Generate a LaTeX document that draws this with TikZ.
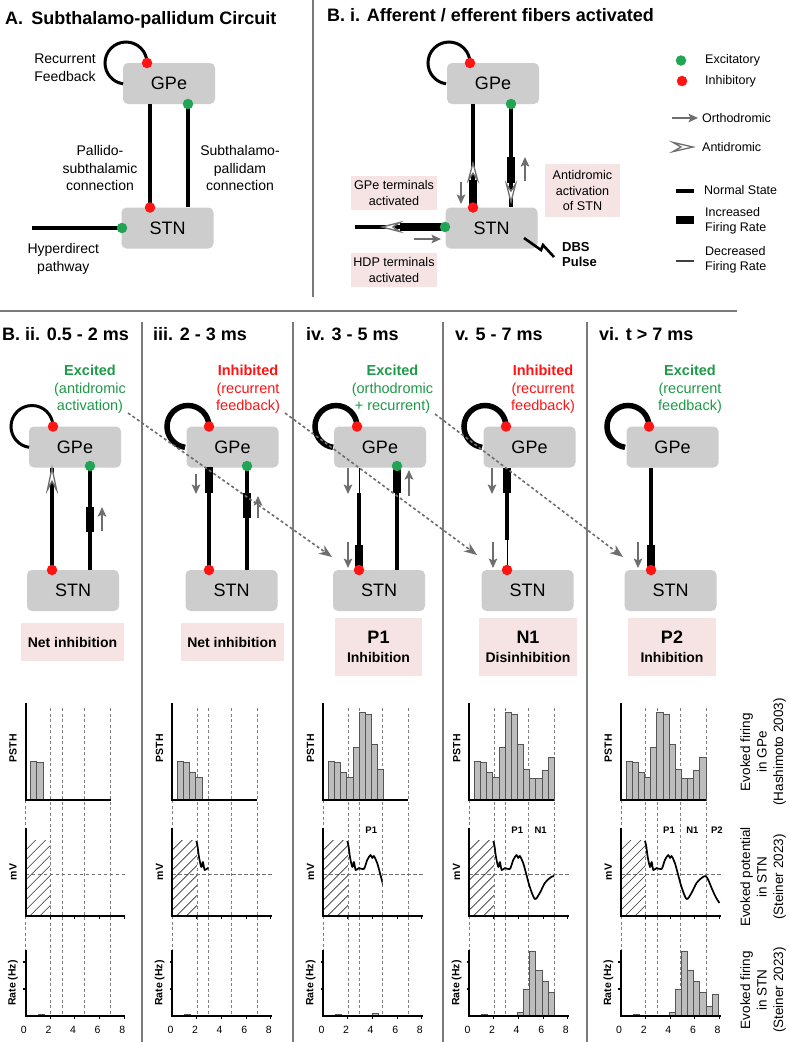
\documentclass[tikz,border=0pt]{standalone}
\usepackage{fontspec}
\setmainfont{Liberation Sans}
\usetikzlibrary{arrows.meta}
\definecolor{boxgray}{HTML}{CDCDCD}
\definecolor{pinkbg}{HTML}{F6E4E4}
\definecolor{dotred}{HTML}{FF1414}
\definecolor{dotgreen}{HTML}{22A455}
\definecolor{txtgreen}{HTML}{1E9A48}
\definecolor{arrgray}{HTML}{6E6E6E}
\definecolor{bargray}{HTML}{BDBDBD}
\definecolor{bardraw}{HTML}{555555}
\definecolor{divgray}{HTML}{7A7A7A}
\newcommand\myfs[2]{\fontsize{#1}{#2}\selectfont}
\newcommand\antihead[4]{\begin{scope}[shift={(#1,#2)},rotate=#3]\filldraw[fill=white,draw=arrgray,line width=1.3pt,line join=miter] (0,0) -- (4.6,#4) -- (0,{0.6*#4}) -- (-4.6,#4) -- cycle;\end{scope}}
\tikzset{
  box/.style={rounded corners=5pt, fill=boxgray, minimum width=92pt, minimum height=41pt, inner sep=0pt, font=\myfs{18}{20}},
  pinkbox/.style={fill=pinkbg, inner sep=0pt, align=center},
  idot/.style={circle, fill=dotred, inner sep=0pt, minimum size=10.5pt},
  edot/.style={circle, fill=dotgreen, inner sep=0pt, minimum size=10.5pt},
  nline/.style={line width=3.1pt},
  tline/.style={line width=7.2pt},
  fline/.style={line width=1pt},
  loopn/.style={line width=3pt},
  loopt/.style={line width=5.5pt},
  garrow/.style={draw=arrgray, line width=2.5pt, -{Stealth[length=9.5pt,width=8.5pt,inset=2pt]}},
  darrow/.style={draw=arrgray, line width=1.6pt, dash pattern=on 3pt off 2.5pt, -{Stealth[length=13pt,width=10pt,inset=4pt]}},
  divider/.style={draw=divgray, line width=1.2pt},
  ttl/.style={font=\bfseries\myfs{18}{20}, anchor=base west, inner sep=0pt},
  lbl/.style={font=\myfs{14}{17.5}, align=center, inner sep=0pt},
  hdg/.style={font=\myfs{14.5}{17.5}, align=center, inner sep=0pt},
  leg/.style={font=\myfs{12.5}{15.5}, anchor=west, align=left, inner sep=0pt},
  pinktxt/.style={font=\myfs{12.6}{15.5}},
  axln/.style={line width=1.8pt},
  tickln/.style={line width=1.1pt},
  vdsh/.style={draw=black!50, line width=0.7pt, dash pattern=on 3pt off 2.5pt},
  hdsh/.style={draw=black!55, line width=1pt, dash pattern=on 3.5pt off 2.5pt},
  barst/.style={fill=bargray, draw=bardraw, line width=0.6pt},
  trc/.style={line width=1.7pt, line join=round},
  htch/.style={line width=0.55pt, draw=black!80},
  ylbl/.style={font=\bfseries\myfs{10.5}{12}, rotate=90, inner sep=0pt},
  tklbl/.style={font=\myfs{10.5}{12}, inner sep=0pt},
  plbl/.style={font=\bfseries\myfs{9.5}{11}, inner sep=0pt},
}
\newcommand\chartcol[4]{%
\begin{scope}[shift={(#1,0)},x=12.3pt]
 \foreach \t in {2,2.95,4.8,6.9} \draw[vdsh] (\t,708) -- (\t,1016);
 \draw[vdsh] (0,800) -- (0,828);
 \draw[vdsh] (0,916) -- (0,950);
 \draw[hdsh] (0,874) -- (8.1,874);
 \foreach \h [count=\k from 0] in {38.7,38,27.7,22.7,52.3,87.3,85.3,56,30.7,21.7,21.7,30,42.7} {\ifnum\k<#2\relax \filldraw[barst] ({0.4+0.5*\k},800) rectangle ({0.9+0.5*\k},{800-\h});\fi}
 \begin{scope}
   \clip (0,840) rectangle (2,916);
   \foreach \k in {0,...,12} \draw[htch] ({-7.8+0.813*\k},916) -- ++(7.317,-90);
 \end{scope}
 \begin{scope}
   \clip (1.5,820) rectangle (#3,925);
   \draw[trc] plot[smooth,tension=0.5] coordinates {(1.95,841) (2.05,846) (2.17,857) (2.36,867) (2.49,862) (2.63,870) (2.9,868) (3.3,869) (3.57,860) (3.84,855) (3.98,858) (4.11,856) (4.38,863) (4.65,875) (4.92,887) (5.33,899) (5.73,893) (6.14,883) (6.55,878) (6.87,876) (7.1,880) (7.4,889) (7.7,897) (8.0,903)};
 \end{scope}
 \filldraw[barst] (1.0,1016) rectangle (1.5,1014.6);
 #4
 \draw[axln] (0,703) -- (0,800) -- (6.9,800);
 \draw[axln] (0,828) -- (0,916) -- (8.1,916);
 \draw[axln] (0,950) -- (0,1016) -- (8.1,1016);
 \foreach \t in {2,4,6,8} {\draw[tickln] (\t,916) -- (\t,919); \draw[tickln] (\t,1016) -- (\t,1019);}
 \draw[tickln] (0,962) -- (-0.22,962);
 \draw[tickln] (0,989) -- (-0.22,989);
 \foreach \t in {0,2,4,6,8} \node[tklbl] at ({\t-0.15},1030) {\t};
 \node[ylbl] at (-1.03,748) {PSTH};
 \node[ylbl] at (-1.03,872) {mV};
 \node[ylbl] at (-1.03,983) {Rate (Hz)};
\end{scope}}
\begin{document}
\begin{tikzpicture}[x=1pt,y=-1pt]
\useasboundingbox (0,0) rectangle (789,1042);
\fill[white] (0,0) rectangle (789,1042);
% dividers
\draw[divider] (0,311) -- (737,311);
\draw[divider] (313,0) -- (313,297);
\foreach \x in {142,293,443,587} \draw[divider] (\x,322) -- (\x,1042);
% titles
\node[ttl] at (5,24) {A.\hspace{0.45em}Subthalamo-pallidum Circuit};
\node[ttl] at (327,21) {B. i. Afferent / efferent fibers activated};
\node[ttl] at (2,340) {B. ii. 0.5 - 2 ms};
\node[ttl] at (153,340) {iii. 2 - 3 ms};
\node[ttl] at (306,340) {iv. 3 - 5 ms};
\node[ttl] at (455,340) {v. 5 - 7 ms};
\node[ttl] at (599,340) {vi. t > 7 ms};

% ===== Panel A =====
\node[box] (gA) at (169,83.5) {GPe};
\node[box] (sA) at (167.5,228) {STN};
\coordinate (gAr) at (147,63);
\coordinate (gAg) at (188,104);
\coordinate (sAr) at (150,207.5);
\coordinate (sAg) at (122,228);
\coordinate (hA) at (32,228);
\draw[loopn] (gAr) arc[start angle=0,end angle=-262,radius=21];
\draw[nline] (gA.south -| sAr) -- (sAr);
\draw[nline] (gAg) -- (sA.north -| gAg);
\draw[nline] (hA) -- (sAg);
\node[idot] at (gAr) {};
\node[edot] at (gAg) {};
\node[idot] at (sAr) {};
\node[edot] at (sAg) {};
\node[lbl] (rfA) at (65,67.5) {Recurrent\\Feedback};
\node[lbl] (psA) at (100,168.3) {Pallido-\\subthalamic\\connection};
\node[lbl] (spA) at (240,168.3) {Subthalamo-\\pallidam\\connection};
\node[lbl] (hdA) at (63.3,259) {Hyperdirect\\pathway};

% ===== Panel B.i =====
\node[box] (gB) at (493,83.5) {GPe};
\node[box] (sB) at (491.5,228) {STN};
\coordinate (gBr) at (470,63);
\coordinate (gBg) at (511,104);
\coordinate (sBr) at (473,207.5);
\coordinate (sBg) at (445,227);
\coordinate (hB) at (355,227);
\draw[loopn] (gBr) arc[start angle=0,end angle=-262,radius=21];
\draw[nline] (gB.south -| sBr) -- (sBr);
\draw[tline] (473,180) -- (473,204);
\antihead{473}{163}{0}{17}
\draw[garrow] (461,182) -- (461,204);
\draw[nline] (gBg) -- (sB.north -| gBg);
\draw[tline] (511,157) -- (511,183);
\antihead{511}{202}{180}{18}
\draw[garrow] (525,181) -- (525,157);
\draw[nline] (hB) -- (sBg);
\draw[tline] (400,227) -- (442,227);
\antihead{382}{227}{90}{18}
\draw[garrow] (414,239) -- (441,239);
\node[idot] at (gBr) {};
\node[edot] at (gBg) {};
\node[idot] at (sBr) {};
\node[edot] at (sBg) {};
\draw[line width=2.6pt, line join=miter] (524,238) -- (541,250) -- (543,245) -- (554,257);
\node[font=\bfseries\myfs{13}{15.5}, align=left, anchor=west, inner sep=0pt] (dbs) at (562,254.5) {DBS\\Pulse};
\node[pinkbox, pinktxt, minimum width=86pt, minimum height=34pt] (gtB) at (394,193) {GPe terminals\\activated};
\node[pinkbox, pinktxt, minimum width=86pt, minimum height=34pt] (htB) at (394,270) {HDP terminals\\activated};
\node[pinkbox, pinktxt, minimum width=75pt, minimum height=53pt] (adB) at (582.5,190.5) {Antidromic\\activation\\of STN};
% legend
\node[edot] (le) at (681,60.5) {};
\node[idot] (li) at (682,81) {};
\node[leg] at (705,60.5) {Excitatory};
\node[leg] at (705,81) {Inhibitory};
\coordinate (loa) at (672,118);
\coordinate (lob) at (698,118);
\draw[garrow] (loa) -- (lob);
\node[leg] at (702,118) {Orthodromic};
\antihead{693}{147}{-90}{20}
\node[leg] at (702,147) {Antidromic};
\draw[nline] (676,191) -- (694,191);
\node[leg] at (704,190) {Normal State};
\draw[tline] (676,220) -- (694,220);
\node[leg] at (705,221) {Increased\\Firing Rate};
\draw[line width=1.2pt, draw=black!75] (676,261) -- (694,261);
\node[leg] at (705,260) {Decreased\\Firing Rate};

% ===== Column 1 =====
\node[box] (g1) at (75,447) {GPe};
\node[box] (s1) at (73,590.5) {STN};
\coordinate (g1r) at (53,426.5);
\coordinate (g1g) at (90,466);
\coordinate (s1r) at (52,570);
\draw[loopn] (g1r) arc[start angle=0,end angle=-262,radius=21];
\draw[nline] (g1.south -| s1r) -- (s1r);
\antihead{52}{468}{0}{22}
\draw[nline] (g1g) -- (s1.north -| g1g);
\draw[tline] (90,507) -- (90,532);
\draw[garrow] (102,531) -- (102,507);
\node[idot] at (g1r) {};
\node[edot] at (g1g) {};
\node[idot] at (s1r) {};
\node[hdg, text=txtgreen] (h1) at (90,389.5) {\textbf{Excited}\\(antidromic\\activation)};
\node[pinkbox, minimum width=103pt, minimum height=38pt, font=\bfseries\myfs{14}{17}] (n1) at (72.5,642) {Net inhibition};

% ===== Column 2 =====
\node[box] (g2) at (232.5,447) {GPe};
\node[box] (s2) at (231.5,590.5) {STN};
\coordinate (g2r) at (209,426.5);
\coordinate (g2g) at (247,466);
\coordinate (s2r) at (209,570);
\draw[loopt] (g2r) arc[start angle=0,end angle=-262,radius=21];
\draw[nline] (g2.south -| s2r) -- (s2r);
\draw[tline] (209,467) -- (209,493);
\draw[garrow] (196,474) -- (196,494);
\draw[nline] (g2g) -- (s2.north -| g2g);
\draw[tline] (247,493) -- (247,518);
\draw[garrow] (258,518) -- (258,496);
\node[idot] at (g2r) {};
\node[edot] at (g2g) {};
\node[idot] at (s2r) {};
\node[hdg, text=dotred] (h2) at (248,389.5) {\textbf{Inhibited}\\(recurrent\\feedback)};
\node[pinkbox, minimum width=103pt, minimum height=38pt, font=\bfseries\myfs{14}{17}] (n2) at (232,642) {Net inhibition};

% ===== Column 3 =====
\node[box] (g3) at (380,447) {GPe};
\node[box] (s3) at (379,590.5) {STN};
\coordinate (g3r) at (357,426.5);
\coordinate (g3g) at (397,466);
\coordinate (s3r) at (359,570);
\draw[loopt] (g3r) arc[start angle=0,end angle=-262,radius=21];
\draw[fline] (g3.south -| s3r) -- (359,493);
\draw[nline] (359,493) -- (359,545);
\draw[tline] (359,545) -- (s3r);
\draw[garrow] (348,468) -- (348,494);
\draw[garrow] (348,542) -- (348,568);
\draw[nline] (g3g) -- (s3.north -| g3g);
\draw[tline] (397,467) -- (397,493);
\draw[garrow] (409,496) -- (409,470);
\node[idot] at (g3r) {};
\node[edot] at (g3g) {};
\node[idot] at (s3r) {};
\node[hdg, text=txtgreen] (h3) at (392.5,389.5) {\textbf{Excited}\\(orthodromic\\+ recurrent)};
\node[pinkbox, minimum width=87pt, minimum height=58pt, font=\bfseries\myfs{14}{17}] (n3) at (378.5,647) {{\myfs{18}{20}P1}\\[2pt]Inhibition};

% ===== Column 4 =====
\node[box] (g4) at (529.5,447) {GPe};
\node[box] (s4) at (527.5,590.5) {STN};
\coordinate (g4r) at (506,426.5);
\coordinate (s4r) at (507,570);
\draw[loopt] (g4r) arc[start angle=0,end angle=-262,radius=21];
\draw[tline] (g4.south -| s4r) -- (507,493);
\draw[nline] (507,493) -- (507,540);
\draw[fline] (507,540) -- (s4r);
\draw[garrow] (492,468) -- (492,494);
\draw[garrow] (493,542) -- (493,568);
\node[idot] at (g4r) {};
\node[idot] at (s4r) {};
\node[hdg, text=dotred] (h4) at (543,389.5) {\textbf{Inhibited}\\(recurrent\\feedback)};
\node[pinkbox, minimum width=98pt, minimum height=58pt, font=\bfseries\myfs{14}{17}] (n4) at (528,647) {{\myfs{18}{20}N1}\\[2pt]Disinhibition};

% ===== Column 5 =====
\node[box] (g5) at (672.5,447) {GPe};
\node[box] (s5) at (670.5,590.5) {STN};
\coordinate (g5r) at (649,426.5);
\coordinate (s5r) at (651,570);
\draw[loopt] (g5r) arc[start angle=0,end angle=-262,radius=21];
\draw[nline] (g5.south -| s5r) -- (651,545);
\draw[tline] (651,545) -- (s5r);
\draw[garrow] (638,542) -- (638,568);
\node[idot] at (g5r) {};
\node[idot] at (s5r) {};
\node[hdg, text=txtgreen] (h5) at (690,389.5) {\textbf{Excited}\\(recurrent\\feedback)};
\node[pinkbox, minimum width=88pt, minimum height=58pt, font=\bfseries\myfs{14}{17}] (n5) at (672,647) {{\myfs{18}{20}P2}\\[2pt]Inhibition};

% ===== dashed transition arrows =====
\coordinate (d1a) at (128,413);
\coordinate (d1b) at (332,557);
\coordinate (d2a) at (285,413);
\coordinate (d2b) at (477,555);
\coordinate (d3a) at (435,414);
\coordinate (d3b) at (623,557);
\draw[darrow] (d1a) -- (d1b);
\draw[darrow] (d2a) -- (d2b);
\draw[darrow] (d3a) -- (d3b);

% ===== charts =====
\chartcol{25.7}{2}{1.9}{}
\chartcol{172.3}{4}{2.95}{}
\chartcol{323.3}{9}{4.82}{\node[plbl] at (3.9,830) {P1}; \filldraw[barst] (3.95,1016) rectangle (4.45,1013.4);}
\chartcol{469.3}{13}{6.9}{\node[plbl] at (3.9,830) {P1}; \node[plbl] at (5.8,830) {N1};
  \foreach \h [count=\k from 0] in {3.3,27,64.3,46,34.3,23.3} \filldraw[barst] ({3.9+0.5*\k},1016) rectangle ({4.4+0.5*\k},{1016-\h});}
\chartcol{621}{13}{8.05}{\node[plbl] at (3.9,830) {P1}; \node[plbl] at (5.8,830) {N1}; \node[plbl] at (7.8,830) {P2};
  \foreach \h [count=\k from 0] in {3.3,27,64.3,46,34.3,23.3,10,21.7} \filldraw[barst] ({3.9+0.5*\k},1016) rectangle ({4.4+0.5*\k},{1016-\h});}

% right-side labels
\node[font=\myfs{13.5}{16.5}, align=center, rotate=90, inner sep=0pt] (rl1) at (763,752) {Evoked firing\\in GPe\\(Hashimoto 2003)};
\node[font=\myfs{13.5}{16.5}, align=center, rotate=90, inner sep=0pt] (rl2) at (763,877) {Evoked potential\\in STN\\(Steiner 2023)};
\node[font=\myfs{13.5}{16.5}, align=center, rotate=90, inner sep=0pt] (rl3) at (763,990) {Evoked firing\\in STN\\(Steiner 2023)};
\end{tikzpicture}
\end{document}
